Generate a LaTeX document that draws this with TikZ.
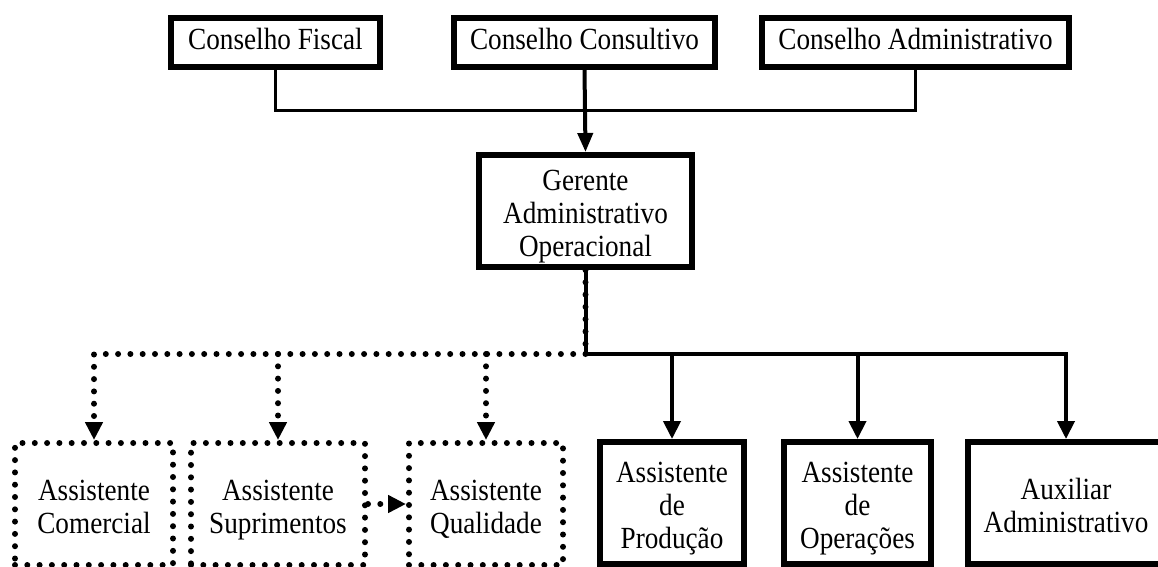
\documentclass[tikz,border=0pt]{standalone}
\usepackage{fontspec}
\setmainfont{Liberation Serif}
\usetikzlibrary{arrows.meta}
\newcommand{\stx}[1]{\scalebox{1}[1.13]{\begin{tabular}{@{}c@{}}#1\end{tabular}}}
\newcommand{\stxl}[1]{\raisebox{-6pt}[\height][\depth]{\stx{#1}}}
\begin{document}
\begin{tikzpicture}[x=1pt,y=-1pt,
  lbl/.style={font=\fontsize{27.2}{29.3}\selectfont, align=center, inner sep=0pt},
  topbox/.style={lbl, draw, line width=6pt, minimum height=49pt},
  solidbox/.style={lbl, draw, line width=6pt, minimum height=122pt},
  dotbox/.style={lbl, draw, line width=6pt, line cap=round, dash pattern=on 0pt off 12.3pt, minimum height=122pt},
  thinconn/.style={line width=3pt},
  conn/.style={line width=4pt, -{Triangle[width=17pt,length=18pt]}},
  topconn/.style={line width=4pt, -{Triangle[width=15pt,length=19pt]}},
  plainconn/.style={line width=4pt},
  dotconn/.style={line width=6pt, line cap=round, dash pattern=on 0pt off 12.3pt},
  dotarrow/.style={dotconn, -{Triangle[width=17pt,length=18pt]}}
]
\clip (0,0) rectangle (1158,566);
\fill[white] (0,0) rectangle (1158,566);

% top boxes
\node[topbox, minimum width=209pt] (fis) at (275.5,42.5) {\stx{Conselho Fiscal}};
\node[topbox, minimum width=261pt] (cons) at (584.5,42.5) {\stx{Conselho Consultivo}};
\node[topbox, minimum width=307pt] (adm) at (915.5,42.5) {\stx{Conselho Administrativo}};

% manager
\node[topbox, minimum width=213pt, minimum height=112pt] (ger) at (585.5,211) {\stxl{Gerente\\Administrativo\\Operacional}};

% bottom dotted boxes
\node[dotbox, minimum width=158pt] (com) at (94,504) {\stxl{Assistente\\Comercial}};
\node[dotbox, minimum width=174pt] (sup) at (278,504) {\stxl{Assistente\\Suprimentos}};
\node[dotbox, minimum width=154pt] (qual) at (486,504) {\stxl{Assistente\\Qualidade}};

% bottom solid boxes
\node[solidbox, minimum width=144pt] (prod) at (672,503) {\stxl{Assistente\\de\\Produção}};
\node[solidbox, minimum width=147pt] (oper) at (857.5,503) {\stxl{Assistente\\de\\Operações}};
\node[solidbox, minimum width=196pt] (aux) at (1066,503) {\stxl{Auxiliar\\Administrativo}};

% top connectors
\coordinate (jt) at (584.5,110);
\draw[thinconn] (fis.south) |- (jt) -| (adm.south);
\draw[topconn] (cons.south) -- (ger.north);

% bottom junction
\coordinate (jb) at (585.5,354);
\draw[dotconn] (ger.south) -- (jb);
\draw[plainconn] (ger.south) -- (jb);
\draw[conn] (jb) -| (aux.north);
\draw[conn] (jb -| prod.north) -- (prod.north);
\draw[conn] (jb -| oper.north) -- (oper.north);

\draw[dotarrow] (jb) -| (com.north);
\draw[dotarrow] (jb -| sup.north) -- (sup.north);
\draw[dotarrow] (jb -| qual.north) -- (qual.north);

\draw[dotarrow] (sup.east) -- (qual.west);
\end{tikzpicture}
\end{document}
